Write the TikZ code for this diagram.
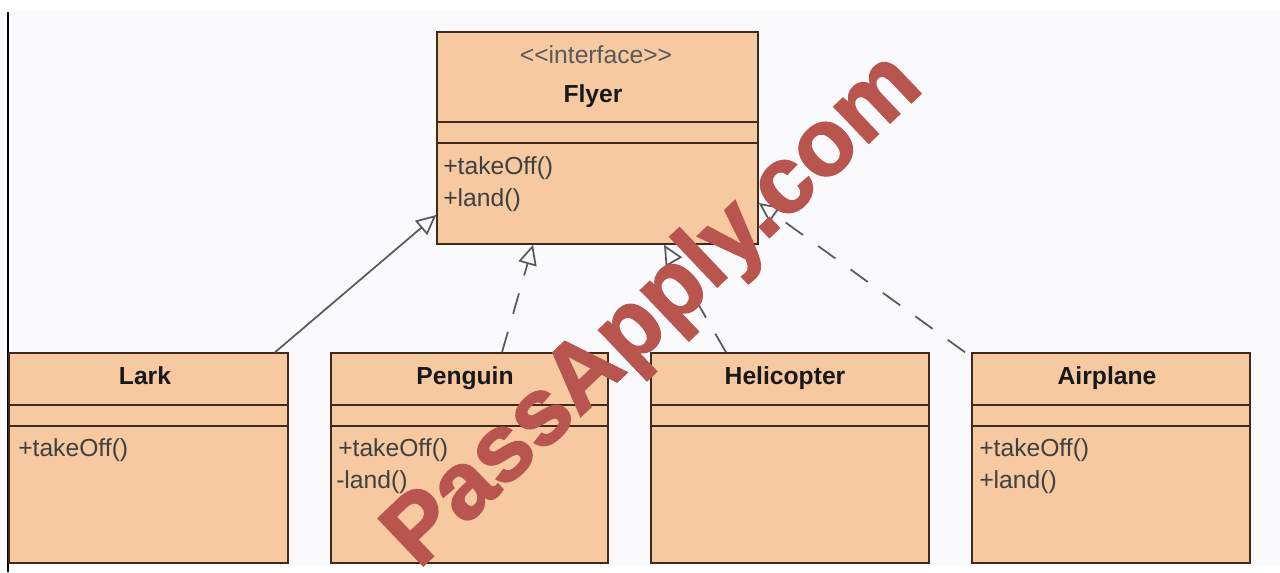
\documentclass[tikz,border=0pt]{standalone}
\usepackage{fontspec}
\setmainfont{Liberation Sans}
\newfontfamily\stampfont[FakeBold=2]{Liberation Sans Bold}
\usetikzlibrary{arrows.meta}
\definecolor{paper}{HTML}{FAFAFD}
\definecolor{classfill}{HTML}{F6C9A1}
\definecolor{classline}{HTML}{3F2A1C}
\definecolor{stamp}{HTML}{B9554F}
\tikzset{
  classbox/.style={draw=classline, fill=classfill, line width=1.1pt, inner sep=0pt},
  classname/.style={font=\fontsize{18.5}{20}\selectfont\bfseries, text=black!90, inner sep=0pt, anchor=base},
  member/.style={font=\fontsize{18.5}{20}\selectfont, text=black!75, anchor=base west, inner sep=0pt},
  divider/.style={classline, line width=1pt},
  realize/.style={draw=black!65, line width=1.3pt, -{Triangle[open, length=15pt, width=14pt, fill=paper]}},
  realizedash/.style={realize, dash pattern=on 16pt off 14pt},
}
\begin{document}
\begin{tikzpicture}[x=0.75pt,y=-0.75pt]
    % Page
    \fill[paper] (0,0) rectangle (1280,572);
    \useasboundingbox (0,0) rectangle (1280,572);
    \fill[white] (0,0) rectangle (1280,11);
    \fill[white] (0,566) rectangle (1280,572);
    \draw[black, line width=1.4pt] (8,12) -- (8,572);

    % Interface
    \node[classbox, minimum width=240.75pt, minimum height=159pt] (flyer) at (597.5,138) {};
    \node[member, anchor=base, text=black!65] (flyerstereo) at (596,63) {<{}<interface>{}>};
    \node[classname] (flyername) at (593,102) {Flyer};
    \draw[divider] (flyer.west |- 0,122) -- (flyer.east |- 0,122);
    \draw[divider] (flyer.west |- 0,143) -- (flyer.east |- 0,143);
    \node[member] (flyertake) at (443,174) {+takeOff()};
    \node[member] (flyerland) at (443,206) {+land()};

    % Lark
    \node[classbox, minimum width=209.25pt, minimum height=157.5pt] (lark) at (148.5,458) {};
    \node[classname] (larkname) at (145,384) {Lark};
    \draw[divider] (lark.west |- 0,405) -- (lark.east |- 0,405);
    \draw[divider] (lark.west |- 0,426) -- (lark.east |- 0,426);
    \node[member] (larktake) at (18,456) {+takeOff()};

    % Penguin
    \node[classbox, minimum width=207.75pt, minimum height=157.5pt] (penguin) at (469.5,458) {};
    \node[classname] (penguinname) at (465,384) {Penguin};
    \draw[divider] (penguin.west |- 0,405) -- (penguin.east |- 0,405);
    \draw[divider] (penguin.west |- 0,426) -- (penguin.east |- 0,426);
    \node[member] (penguintake) at (338,456) {+takeOff()};
    \node[member] (penguinland) at (336,488) {-land()};

    % Helicopter
    \node[classbox, minimum width=208.5pt, minimum height=157.5pt] (helicopter) at (790,458) {};
    \node[classname] (helicoptername) at (785,384) {Helicopter};
    \draw[divider] (helicopter.west |- 0,405) -- (helicopter.east |- 0,405);
    \draw[divider] (helicopter.west |- 0,426) -- (helicopter.east |- 0,426);

    % Airplane
    \node[classbox, minimum width=208.5pt, minimum height=157.5pt] (airplane) at (1111,458) {};
    \node[classname] (airplanename) at (1107,384) {Airplane};
    \draw[divider] (airplane.west |- 0,405) -- (airplane.east |- 0,405);
    \draw[divider] (airplane.west |- 0,426) -- (airplane.east |- 0,426);
    \node[member] (airplanetake) at (979,456) {+takeOff()};
    \node[member] (airplaneland) at (979,488) {+land()};

    % Realizations
    \draw[realize] (lark.north -| 275,0) -- (flyer.west |- 0,215);
    \draw[realizedash] (penguin.north -| 502,0) -- (flyer.south -| 533,0);
    \draw[realizedash] (helicopter.north -| 726,0) -- (flyer.south -| 664,0);
    \draw[realizedash] (airplane.north -| 965,0) -- (flyer.east |- 0,203);

    % Watermark
    \node[font=\fontsize{71}{71}\selectfont\stampfont, text=stamp, rotate=43.5, inner sep=0pt] (stampmark) at (655,312) {PassApply.com};
\end{tikzpicture}
\end{document}
